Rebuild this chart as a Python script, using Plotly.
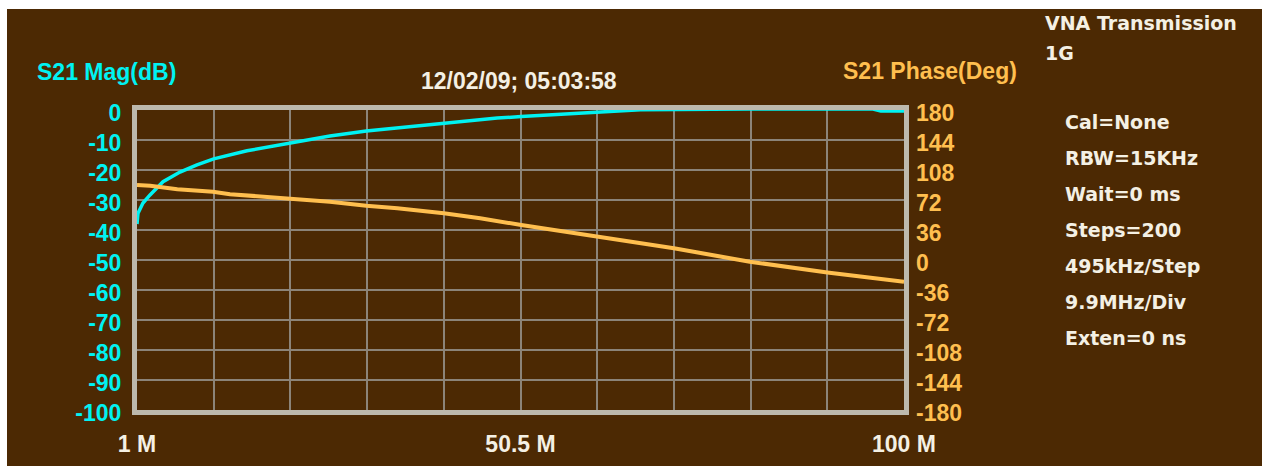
import plotly.graph_objects as go

# Sweep 1 MHz .. 100 MHz
freq_range = [1, 100]
x_tick_vals = [1, 50.5, 100]
x_tick_text = ["1 M", "50.5 M", "100 M"]

# S21 magnitude (dB)
mag_freq = [1, 1.13, 1.77, 2.68, 4.36, 6.55, 8.74, 10.9, 15.2, 20.8, 25.9, 30.6,
            37.1, 40.6, 47.5, 50.6, 55.0, 60.0, 66.0, 80.0, 96.0, 97.0, 100]
mag_db = [-38, -34.4, -31, -28.3, -23.9, -20.7, -18.3, -16.3, -13.6, -11, -8.7, -7,
          -5.3, -4.3, -2.7, -2.2, -1.5, -0.7, 0.1, 0.3, 0.3, -0.3, -0.3]

# S21 phase (deg)
phase_freq = [1, 2.7, 6.2, 10.8, 13.0, 17.3, 20.8, 25.9, 30.6, 34.6, 40.6, 45.3,
              50.6, 60.4, 70.3, 80.1, 90.1, 100]
phase_deg = [90, 89, 85, 82, 79, 76, 74, 70, 65, 62, 56, 50,
             42, 28, 14, -2, -15, -26]

mag_range = [-100, 0]
mag_ticks = [0, -10, -20, -30, -40, -50, -60, -70, -80, -90, -100]
phase_range = [-180, 180]
phase_ticks = [180, 144, 108, 72, 36, 0, -36, -72, -108, -144, -180]

settings = ["Cal=None", "RBW=15KHz", "Wait=0 ms", "Steps=200",
            "495kHz/Step", "9.9MHz/Div", "Exten=0 ns"]

BROWN = "#4c2903"
CYAN = "#00f2f2"
ORANGE = "#ffbf4f"
CREAM = "#f4f0e4"
GRID = "#8c8479"
FRAME = "#bdb9ad"

W, H = 1262, 466
L, R, T, B = 137, 904, 110, 410   # plot area in pixels


def px(x):
    return (x - L) / (R - L)


def py(y):
    return (B - y) / (B - T)


fig = go.Figure()
fig.add_trace(go.Scatter(x=mag_freq, y=mag_db, mode="lines",
                         line=dict(color=CYAN, width=3.5), yaxis="y",
                         hoverinfo="skip"))
fig.add_trace(go.Scatter(x=phase_freq, y=phase_deg, mode="lines",
                         line=dict(color=ORANGE, width=4), yaxis="y2",
                         hoverinfo="skip"))

# vertical grid: 10 divisions across the sweep
step = (freq_range[1] - freq_range[0]) / 10
x_grid = [freq_range[0] + i * step for i in range(11)]

label_font = dict(family="Liberation Sans, Arial", size=23, weight="bold")
panel_font = dict(family="DejaVu Sans", size=19, weight="bold", color=CREAM)

fig.update_layout(
    width=W, height=H,
    margin=dict(l=L, r=W - R, t=T, b=H - B, pad=0, autoexpand=False),
    paper_bgcolor=BROWN, plot_bgcolor=BROWN,
    showlegend=False,
    xaxis=dict(range=freq_range, tickmode="array", tickvals=x_tick_vals,
               ticktext=x_tick_text, tickfont=dict(label_font, color=CREAM),
               showgrid=True, gridcolor=GRID, gridwidth=2,
               minor=dict(tickvals=x_grid, showgrid=True, gridcolor=GRID, gridwidth=2),
               showline=True, linecolor=FRAME, linewidth=5, mirror=True,
               layer="below traces", zeroline=False, ticks="", automargin=False,
               ticklabelstandoff=9, fixedrange=True),
    yaxis=dict(range=mag_range, tickmode="array", tickvals=mag_ticks,
               ticktext=[str(v) for v in mag_ticks],
               tickfont=dict(label_font, color=CYAN),
               showgrid=True, gridcolor=GRID, gridwidth=2,
               showline=True, linecolor=FRAME, linewidth=5, mirror=True,
               layer="below traces", zeroline=False, ticks="", automargin=False,
               ticklabelshift=3, ticklabelstandoff=6, fixedrange=True),
    yaxis2=dict(range=phase_range, tickmode="array", tickvals=phase_ticks,
                ticktext=[str(v) for v in phase_ticks],
                overlaying="y", side="right",
                tickfont=dict(label_font, color=ORANGE), showgrid=False,
                zeroline=False, ticks="", ticklabelshift=3, ticklabelstandoff=11,
                automargin=False, layer="below traces", fixedrange=True),
)

# white border along top and left edges
fig.add_shape(type="rect", xref="paper", yref="paper",
              x0=px(0), x1=px(W), y0=py(9), y1=py(0),
              fillcolor="white", line_width=0, layer="below")
fig.add_shape(type="rect", xref="paper", yref="paper",
              x0=px(0), x1=px(7), y0=py(H), y1=py(0),
              fillcolor="white", line_width=0, layer="below")

ann = []
ann.append(dict(text="S21 Mag(dB)", x=px(35), y=py(72), xanchor="left",
                font=dict(label_font, color=CYAN)))
ann.append(dict(text="12/02/09; 05:03:58", x=px(519), y=py(81), xanchor="center",
                font=dict(label_font, color=CREAM)))
ann.append(dict(text="S21 Phase(Deg)", x=px(841), y=py(71), xanchor="left",
                font=dict(label_font, color=ORANGE)))
ann.append(dict(text="VNA Transmission", x=px(1043), y=py(23), xanchor="left",
                font=panel_font))
ann.append(dict(text="1G", x=px(1043), y=py(53), xanchor="left", font=panel_font))
for i, s in enumerate(settings):
    ann.append(dict(text=s, x=px(1063), y=py(122 + 36 * i), xanchor="left",
                    font=panel_font))
for a in ann:
    a.update(xref="paper", yref="paper", yanchor="middle", showarrow=False)
fig.update_layout(annotations=ann)

fig.write_html("out.html", config={"displayModeBar": False})
